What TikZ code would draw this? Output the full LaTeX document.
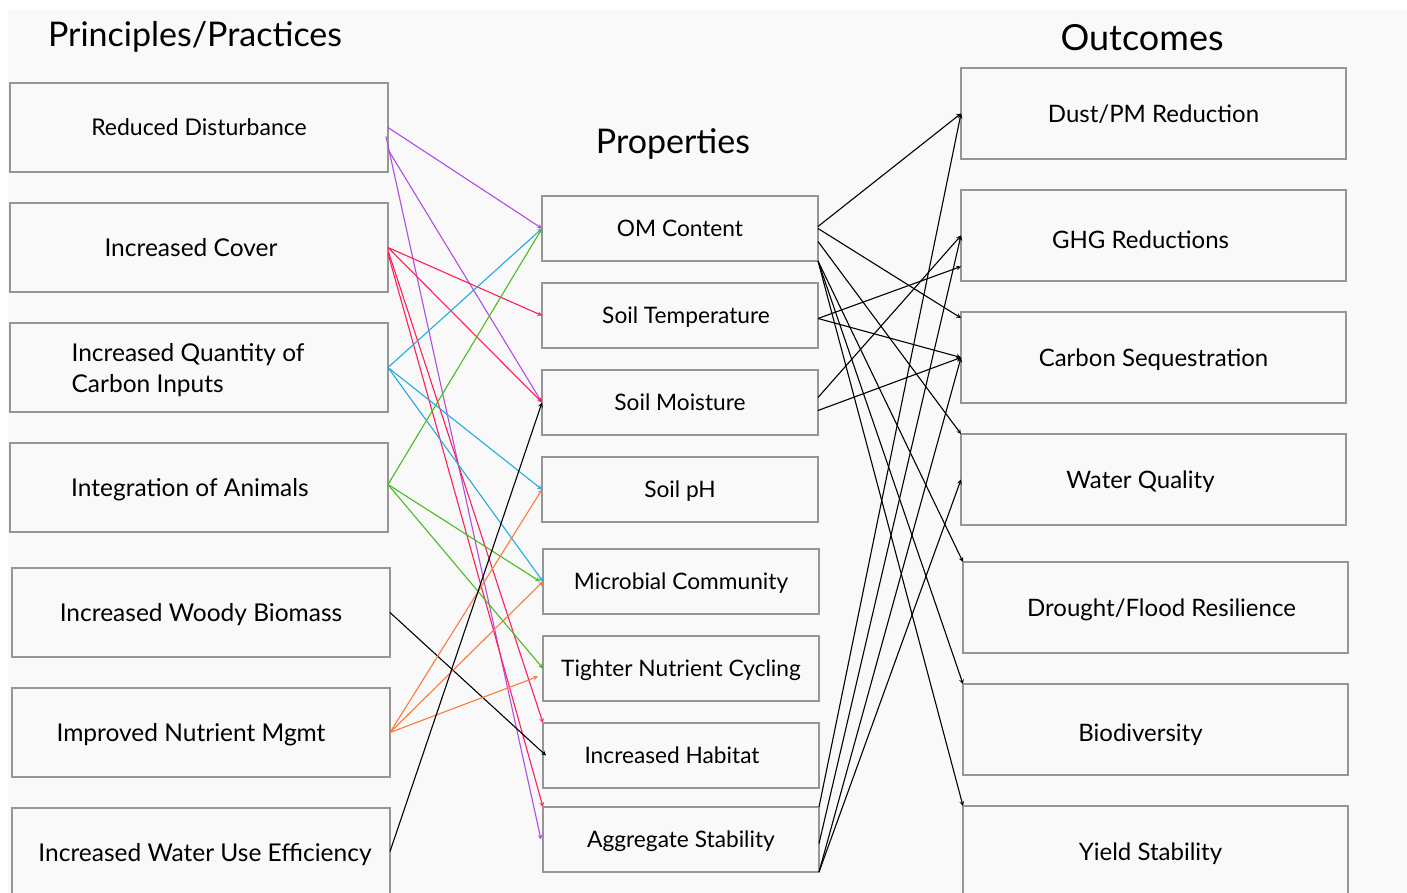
\documentclass[tikz,border=0pt]{standalone}
\usepackage{fontspec}
\setmainfont{Lato}
\usepackage{tikz}
\usetikzlibrary{shapes.geometric, arrows}
\definecolor{bgcol}{RGB}{249,249,249}
\definecolor{boxline}{RGB}{150,150,150}
\definecolor{purp}{RGB}{178,75,230}
\definecolor{redl}{RGB}{255,30,90}
\definecolor{cyanl}{RGB}{35,170,225}
\definecolor{greenl}{RGB}{70,190,30}
\definecolor{orangel}{RGB}{255,120,60}
\tikzstyle{box} = [rectangle, text centered, text depth=0pt, draw=boxline, line width=1.2pt, fill=bgcol, outer sep=0pt]
\tikzstyle{practice} = [box, minimum width=378pt, minimum height=89pt, font=\fontsize{24.5}{31}\selectfont]
\tikzstyle{property} = [box, minimum width=276pt, minimum height=65pt, font=\fontsize{22.7}{28}\selectfont]
\tikzstyle{outcome} = [box, minimum width=385pt, minimum height=91pt, font=\fontsize{24}{30}\selectfont]
\tikzstyle{lbl} = [text depth=0pt]
\tikzstyle{heading} = [font=\fontsize{34}{40}\selectfont]
\tikzstyle{link} = [line width=1.1pt,->,>=stealth]

\begin{document}
\begin{tikzpicture}[x=1pt, y=-1pt]
		\useasboundingbox (0,0) rectangle (1407,893);
		\fill[bgcol] (8,10) rectangle (1407,893);

		% headings
		\node (hpp) [heading] at (195,37) {Principles/Practices};
		\node (hpr) [heading] at (673,144) {Properties};
		\node (hout) [heading, font=\fontsize{36}{42}\selectfont] at (1142,38) {Outcomes};

		% principles / practices
		\node (rd) [practice, font=\fontsize{23}{28}\selectfont] at (199,127.5) {Reduced Disturbance};
		\node (ic) [practice, below of=rd, node distance=120pt, label={[lbl, xshift=-8pt, font=\fontsize{24.5}{31}\selectfont]center:Increased Cover}] {};
		\node (iq) [practice, below of=ic, node distance=120pt, label={[xshift=-11pt, yshift=-3pt, align=left, font=\fontsize{24.5}{31}\selectfont]center:Increased Quantity of\\Carbon Inputs}] {};
		\node (ia) [practice, below of=iq, node distance=120pt, label={[lbl, xshift=-9pt, font=\fontsize{24.5}{31}\selectfont]center:Integration of Animals}] {};
		\node (iw) [practice, below of=ia, node distance=120pt, xshift=2pt, yshift=-5pt] {Increased Woody Biomass};
		\node (in) [practice, below of=iw, node distance=120pt, label={[lbl, xshift=-10pt, font=\fontsize{24.5}{31}\selectfont]center:Improved Nutrient Mgmt}] {};
		\node (ie) [practice, below of=in, node distance=120pt, label={[lbl, xshift=4pt, font=\fontsize{24.5}{31}\selectfont]center:Increased Water Use Efficiency}] {};

		% properties
		\node (om) [property] at (680,228.5) {OM Content};
		\node (st) [property, below of=om, node distance=87pt, label={[lbl, xshift=6pt, font=\fontsize{22.7}{28}\selectfont]center:Soil Temperature}] {};
		\node (sm) [property, below of=st, node distance=87pt] {Soil Moisture};
		\node (ph) [property, below of=sm, node distance=87pt] {Soil pH};
		\node (mc) [property, below of=ph, node distance=87pt, xshift=1pt, yshift=-5pt] {Microbial Community};
		\node (tn) [property, below of=mc, node distance=87pt] {Tighter Nutrient Cycling};
		\node (ih) [property, below of=tn, node distance=87pt, label={[lbl, xshift=-9pt, font=\fontsize{22.7}{28}\selectfont]center:Increased Habitat}] {};
		\node (as) [property, below of=ih, node distance=87pt, yshift=3pt] {Aggregate Stability};

		% outcomes
		\node (dust) [outcome] at (1153.5,113.5) {Dust/PM Reduction};
		\node (ghg) [outcome, below of=dust, node distance=122pt, label={[lbl, xshift=-13pt, yshift=-4pt, font=\fontsize{24}{30}\selectfont]center:GHG Reductions}] {};
		\node (cs) [outcome, below of=ghg, node distance=122pt] {Carbon Sequestration};
		\node (wq) [outcome, below of=cs, node distance=122pt, label={[lbl, xshift=-13pt, font=\fontsize{24}{30}\selectfont]center:Water Quality}] {};
		\node (df) [outcome, below of=wq, node distance=122pt, xshift=2pt, yshift=-6pt, label={[lbl, xshift=6pt, font=\fontsize{24}{30}\selectfont]center:Drought/Flood Resilience}] {};
		\node (bio) [outcome, below of=df, node distance=122pt, label={[lbl, xshift=-15pt, yshift=-3pt, font=\fontsize{24}{30}\selectfont]center:Biodiversity}] {};
		\node (ys) [outcome, below of=bio, node distance=122pt, label={[lbl, xshift=-5pt, font=\fontsize{24}{30}\selectfont]center:Yield Stability}] {};

		% practices -> properties
		\draw [link, purp] (rd.east) -- (om.west);
		\draw [link, purp] ([yshift=-22pt]rd.east) -- (sm.west);
		\draw [link, purp] ([xshift=-2pt,yshift=-9pt]rd.east) -- ([xshift=-2pt]as.west);
		\draw [link, redl] (ic.east) -- (st.west);
		\draw [link, redl] (ic.east) -- (sm.west);
		\draw [link, redl] ([yshift=-3pt]ic.east) -- (ih.north west);
		\draw [link, redl] ([yshift=-6pt]ic.east) -- (as.north west);
		\draw [link, cyanl] (iq.east) -- (om.west);
		\draw [link, cyanl] (iq.east) -- (ph.west);
		\draw [link, cyanl] (iq.east) -- (mc.west);
		\draw [link, greenl] ([yshift=3pt]ia.east) -- (om.west);
		\draw [link, greenl] ([yshift=3pt]ia.east) -- ([xshift=-3pt]mc.west);
		\draw [link, greenl] ([yshift=3pt]ia.east) -- (tn.west);
		\draw [link] (iw.east) -- ([xshift=3pt]ih.west);
		\draw [link, orangel] (in.east) -- (ph.west);
		\draw [link, orangel] (in.east) -- (mc.west);
		\draw [link, orangel] (in.east) -- ([xshift=-5pt,yshift=-8pt]tn.west);
		\draw [link] ([yshift=1pt]ie.east) -- (sm.west);

		% properties -> outcomes
		\draw [link] ([yshift=2pt]om.east) -- (dust.west);
		\draw [link] (om.east) -- ([yshift=-6pt]cs.north west);
		\draw [link] ([yshift=-13pt]om.east) -- (wq.north west);
		\draw [link] (om.south east) -- (df.north west);
		\draw [link] (om.south east) -- (bio.north west);
		\draw [link] (om.south east) -- (ys.north west);
		\draw [link] ([yshift=-3pt]st.east) -- ([yshift=-31pt]ghg.west);
		\draw [link] ([yshift=-3pt]st.east) -- (cs.west);
		\draw [link] ([yshift=5pt]sm.east) -- (ghg.west);
		\draw [link] ([yshift=-8pt]sm.east) -- (cs.west);
		\draw [link] (as.north east) -- (dust.west);
		\draw [link] ([yshift=-4pt]as.east) -- (ghg.west);
		\draw [link] (as.south east) -- (cs.west);
		\draw [link] (as.south east) -- (wq.west);
	  \end{tikzpicture}
\end{document}
